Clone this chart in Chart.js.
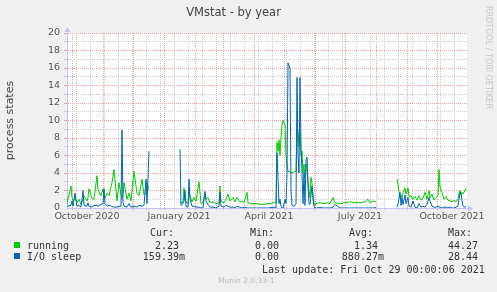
<!DOCTYPE html>
<html>
<head>
<meta charset="utf-8">
<script src="https://cdn.jsdelivr.net/npm/chart.js@4.4.1/dist/chart.umd.min.js"></script>
<style>
  html, body { margin: 0; padding: 0; background: #f0f0f0; }
  #wrap { position: relative; width: 497px; height: 292px; overflow: hidden; }
  #chart { position: absolute; left: 0; top: 0; }
  .t { position: absolute; font: 10px "DejaVu Sans Mono", monospace; color: #333; line-height: 12px; white-space: pre; }
  .sw { position: absolute; width: 6px; height: 6px; }
  #rrd { position: absolute; left: 484px; top: 6px; writing-mode: vertical-rl; font: 8px "DejaVu Sans", sans-serif; color: #c8c8c8; line-height: 9px; white-space: nowrap; }
  #munin { position: absolute; left: 218px; top: 276px; font: 7.5px "DejaVu Sans", sans-serif; color: #bbb; line-height: 10px; }
</style>
</head>
<body>
<div id="wrap">
  <canvas id="chart" width="497" height="292"></canvas>
  <div id="rrd">RRDTOOL / TOBI OETIKER</div>
  <div id="munin">Munin 2.0.33-1</div>
</div>
<script>
(() => {
  // days counted from 1 Oct 2020, graph ends 29 Oct 2021
  const sampleDays = [
    -5, -1, 0, 1, 3, 5, 7, 9, 11, 12, 15, 16, 17, 20, 22, 25, 26, 29, 31, 32,
    33, 35, 37, 40, 42, 45, 47, 49, 50, 51, 52, 55, 57, 59, 62, 65, 67, 70, 72, 74,
    75, 77,
    92,
    108, 109, 111, 112, 113, 114, 116, 117, 118, 120, 122, 124, 127, 129, 131, 133, 134, 136, 138, 141,
    144, 147, 148, 149, 152, 154, 156, 158, 161, 163, 165, 168, 170, 172, 175, 176, 179, 184, 190, 196,
    202, 204, 205, 206, 207, 208, 209, 210, 211, 213, 214, 215, 216, 217, 218, 219, 220, 222, 224, 225,
    226, 227, 228, 229, 230, 231, 232, 233, 234, 235, 236, 237, 238, 239, 240, 241, 242, 243, 244, 248,
    252, 256, 258, 261, 263, 268, 273, 278, 283, 288, 293, 296, 298, 301, 304,
    314,
    325, 326, 327, 328, 329, 330, 331, 333, 334, 336, 337, 339, 341, 343, 345, 347, 349, 351, 353, 355,
    357, 358, 360, 362, 364, 366, 367, 368, 370, 372, 374, 376, 378, 380, 382, 384, 386, 387, 388, 389,
    390, 391, 392, 394,
  ];
  const running = [
    0.5, 2.5, 1.2, 0.8, 1.1, 0.6, 1.0, 0.4, 1.0, 1.4, 0.8, 1.2, 2.2, 1.1, 1.0, 3.7, 2.1, 1.4, 2.2, 1.5,
    1.1, 1.7, 1.4, 2.9, 4.4, 0.8, 2.9, 1.5, 1.1, 1.5, 2.9, 1.0, 1.7, 0.8, 4.2, 1.7, 1.4, 3.3, 1.5, 1.8,
    2.9, 2.1,
    null,
    0.6, 0.7, 0.6, 2.3, 1.0, 0.7, 0.5, 1.7, 1.4, 0.7, 1.2, 0.8, 3.0, 0.5, 0.6, 1.6, 1.0, 1.2, 0.6, 0.7,
    0.5, 0.6, 2.5, 0.8, 0.6, 1.0, 1.6, 0.8, 1.2, 0.7, 1.2, 0.7, 0.8, 0.6, 1.8, 0.6, 0.5, 0.5, 0.4, 0.5,
    0.6, 0.6, 7.5, 6.5, 7.8, 6.0, 8.0, 9.5, 10.0, 9.5, 6.0, 5.0, 4.2, 4.2, 4.2, 4.0, 4.0, 4.1, 4.2, 9.0,
    8.8, 7.0, 8.6, 6.0, 6.5, 4.0, 5.0, 3.5, 5.0, 4.5, 3.0, 2.0, 1.2, 3.5, 2.8, 1.5, 0.6, 0.3, 0.5, 0.6,
    0.5, 0.6, 0.5, 1.2, 0.6, 0.5, 0.6, 0.7, 0.6, 0.6, 0.7, 1.0, 0.6, 0.8, 0.7,
    null,
    3.3, 2.6, 1.9, 1.4, 1.5, 1.2, 1.8, 2.3, 1.6, 2.3, 1.3, 1.4, 1.0, 1.3, 0.9, 1.4, 0.9, 1.1, 1.8, 1.0,
    2.0, 1.2, 1.6, 0.9, 1.2, 1.4, 4.4, 2.4, 1.8, 1.0, 1.3, 0.9, 0.8, 0.7, 0.9, 0.7, 1.0, 1.6, 2.0, 1.5,
    1.8, 1.6, 1.8, 2.23,
  ];
  const ioSleep = [
    0.2, 0.3, 0.8, 0.2, 1.7, 0.2, 0.3, 0.1, 2.0, 0.3, 0.2, 0.6, 0.2, 0.1, 0.3, 0.3, 0.2, 0.4, 0.5, 2.2,
    0.5, 0.2, 0.3, 0.2, 0.1, 0.1, 0.2, 0.2, 8.9, 0.6, 0.2, 0.1, 0.5, 0.1, 0.2, 0.1, 0.3, 0.2, 0.3, 3.3,
    0.5, 6.5,
    null,
    6.7, 0.3, 0.5, 0.8, 2.0, 0.2, 0.1, 3.3, 1.0, 0.2, 0.2, 0.1, 0.1, 0.0, 0.0, 1.9, 0.8, 0.4, 0.1, 0.1,
    0.0, 0.2, 1.8, 0.2, 0.1, 0.3, 0.2, 0.1, 0.1, 0.0, 0.2, 0.1, 0.0, 0.1, 0.0, 0.0, 0.0, 0.0, 0.0, 0.0,
    0.1, 0.0, 6.3, 3.5, 0.5, 1.0, 0.2, 0.0, 0.0, 1.0, 0.5, 4.0, 16.6, 16.3, 16.0, 2.0, 0.3, 0.2, 0.5, 14.9,
    6.0, 4.0, 14.9, 7.0, 4.0, 0.5, 4.0, 0.3, 5.5, 5.8, 2.5, 0.5, 0.4, 1.5, 2.5, 1.0, 0.2, 0.0, 0.0, 0.05,
    0.0, 0.0, 0.0, 0.1, 0.4, 0.0, 0.0, 0.0, 0.0, 0.0, 0.0, 0.0, 0.0, 0.0, 0.05,
    null,
    0.1, 0.5, 1.0, 1.8, 0.3, 1.2, 0.4, 1.5, 0.5, 1.2, 0.2, 0.1, 0.8, 0.1, 0.0, 0.5, 0.1, 0.2, 0.1, 0.4,
    1.2, 0.8, 0.2, 0.1, 0.1, 0.2, 0.1, 0.1, 0.0, 0.1, 0.1, 0.0, 0.1, 0.0, 0.0, 0.1, 0.2, 1.0, 1.8, 1.6,
    0.9, 0.2, 0.1, 0.16,
  ];

  const seriesLabels = ["running", "I/O sleep"];
  const seriesColors = ["#00cc00", "#0066b3"];
  const statCur = ["2.23 ", "159.39m"];
  const statMin = ["0.00 ", "0.00 "];
  const statAvg = ["1.34 ", "880.27m"];
  const statMax = ["44.27 ", "28.44 "];

  const monthStarts = [0, 31, 61, 92, 123, 151, 182, 212, 243, 273, 304, 335, 365];
  const minorDays = [4, 18, 32, 46, 60, 74, 88, 102, 116, 130, 144, 158, 172, 186, 200,
    214, 228, 242, 256, 270, 284, 298, 312, 326, 340, 354, 368, 382];
  const labelDays = [15, 107, 197, 288, 380];
  const labelNames = ["October 2020", "January 2021", "April 2021", "July 2021", "October 2021"];
  const xTicks = [...monthStarts, ...minorDays, ...labelDays].sort((a, b) => a - b);

  const majorGrid = "#f0a0a0";
  const minorGrid = "#cdcdcd";
  const axisColor = "#c4c4f4";
  const tickFont = { family: "DejaVu Sans", size: 9.5 };

  const pts = (vals) => sampleDays.map((d, i) => ({ x: d, y: vals[i] }));

  // white plot area on the grey page
  const plotBg = {
    id: "plotBg",
    beforeDraw(chart) {
      const { ctx, chartArea: a } = chart;
      ctx.save();
      ctx.fillStyle = "#fff";
      ctx.fillRect(a.left, a.top, a.right - a.left, a.bottom - a.top);
      ctx.restore();
    },
  };

  // rrdtool style arrow heads on both axes
  const arrows = {
    id: "arrows",
    afterDraw(chart) {
      const { ctx, chartArea: a } = chart;
      const x = Math.round(a.left) + 0.5, y = Math.round(a.bottom) + 0.5;
      ctx.save();
      ctx.strokeStyle = axisColor;
      ctx.fillStyle = axisColor;
      ctx.lineWidth = 1;
      ctx.beginPath();
      ctx.moveTo(x, a.top); ctx.lineTo(x, a.top - 2);
      ctx.moveTo(a.right, y); ctx.lineTo(a.right + 2, y);
      ctx.stroke();
      ctx.beginPath();
      ctx.moveTo(x - 3, a.top - 1); ctx.lineTo(x + 3, a.top - 1); ctx.lineTo(x, a.top - 6);
      ctx.closePath(); ctx.fill();
      ctx.beginPath();
      ctx.moveTo(a.right + 1, y - 3); ctx.lineTo(a.right + 1, y + 3); ctx.lineTo(a.right + 6, y);
      ctx.closePath(); ctx.fill();
      ctx.restore();
    },
  };

  new Chart(document.getElementById("chart"), {
    type: "line",
    data: {
      datasets: [
        { label: seriesLabels[0], data: pts(running), borderColor: seriesColors[0], borderWidth: 1,
          pointRadius: 0, tension: 0, spanGaps: false, fill: false, order: 2 },
        { label: seriesLabels[1], data: pts(ioSleep), borderColor: seriesColors[1], borderWidth: 1,
          pointRadius: 0, tension: 0, spanGaps: false, fill: false, order: 1 },
      ],
    },
    options: {
      responsive: false,
      animation: false,
      layout: { padding: { left: 0, right: 30, top: 0, bottom: 64 } },
      plugins: {
        legend: { display: false },
        tooltip: { enabled: false },
        title: {
          display: true,
          text: "VMstat - by year",
          color: "#444",
          font: { family: "DejaVu Sans", size: 11.5, weight: "normal" },
          padding: { top: 6, bottom: 13.2 },
        },
      },
      scales: {
        x: {
          type: "linear",
          min: -5,
          max: 395,
          afterBuildTicks: (s) => { s.ticks = xTicks.map((v) => ({ value: v })); },
          afterFit: (s) => { s.height = 20; },
          ticks: {
            autoSkip: false,
            maxRotation: 0,
            padding: 1,
            color: "#555",
            font: tickFont,
            callback: (v) => {
              const i = labelDays.indexOf(v);
              return i >= 0 ? labelNames[i] : "";
            },
          },
          grid: {
            tickLength: 2,
            color: (c) => {
              const v = c.tick ? c.tick.value : null;
              if (monthStarts.includes(v)) return majorGrid;
              if (minorDays.includes(v)) return minorGrid;
              return "rgba(0,0,0,0)";
            },
          },
          border: { color: axisColor, dash: [1, 1] },
        },
        y: {
          min: 0,
          max: 20,
          afterFit: (s) => { s.width = 67; },
          ticks: {
            stepSize: 1,
            autoSkip: false,
            padding: 4,
            color: "#555",
            font: tickFont,
            callback: (v) => (v % 2 === 0 ? v : ""),
          },
          grid: {
            tickLength: 3,
            color: (c) => {
              const v = c.tick ? c.tick.value : null;
              if (v === 0) return "rgba(0,0,0,0)";
              return v % 2 === 0 ? majorGrid : minorGrid;
            },
          },
          border: { color: axisColor, dash: [1, 1] },
          title: {
            display: true,
            text: "process states",
            color: "#444",
            font: { family: "DejaVu Sans", size: 11 },
            padding: { top: 4, bottom: 0 },
          },
        },
      },
    },
    plugins: [plotBg, arrows],
  });

  // legend table under the graph
  const wrap = document.getElementById("wrap");
  const put = (text, css) => {
    const el = document.createElement("div");
    el.className = "t";
    el.textContent = text;
    Object.assign(el.style, css);
    wrap.appendChild(el);
  };

  put("Cur:", { left: "150px", top: "227px" });
  put("Min:", { left: "250px", top: "227px" });
  put("Avg:", { left: "349px", top: "227px" });
  put("Max:", { left: "448px", top: "227px" });

  seriesLabels.forEach((name, i) => {
    const top = 240 + i * 11;
    const sw = document.createElement("div");
    sw.className = "sw";
    Object.assign(sw.style, { left: "14px", top: (top + 2) + "px", background: seriesColors[i] });
    wrap.appendChild(sw);
    put(name, { left: "27px", top: top + "px" });
    put(statCur[i], { right: "312px", top: top + "px" });
    put(statMin[i], { right: "212px", top: top + "px" });
    put(statAvg[i], { right: "113px", top: top + "px" });
    put(statMax[i], { right: "13px", top: top + "px" });
  });

  put("Last update: Fri Oct 29 00:00:06 2021", { left: "262px", top: "264px" });
})();
</script>
</body>
</html>
